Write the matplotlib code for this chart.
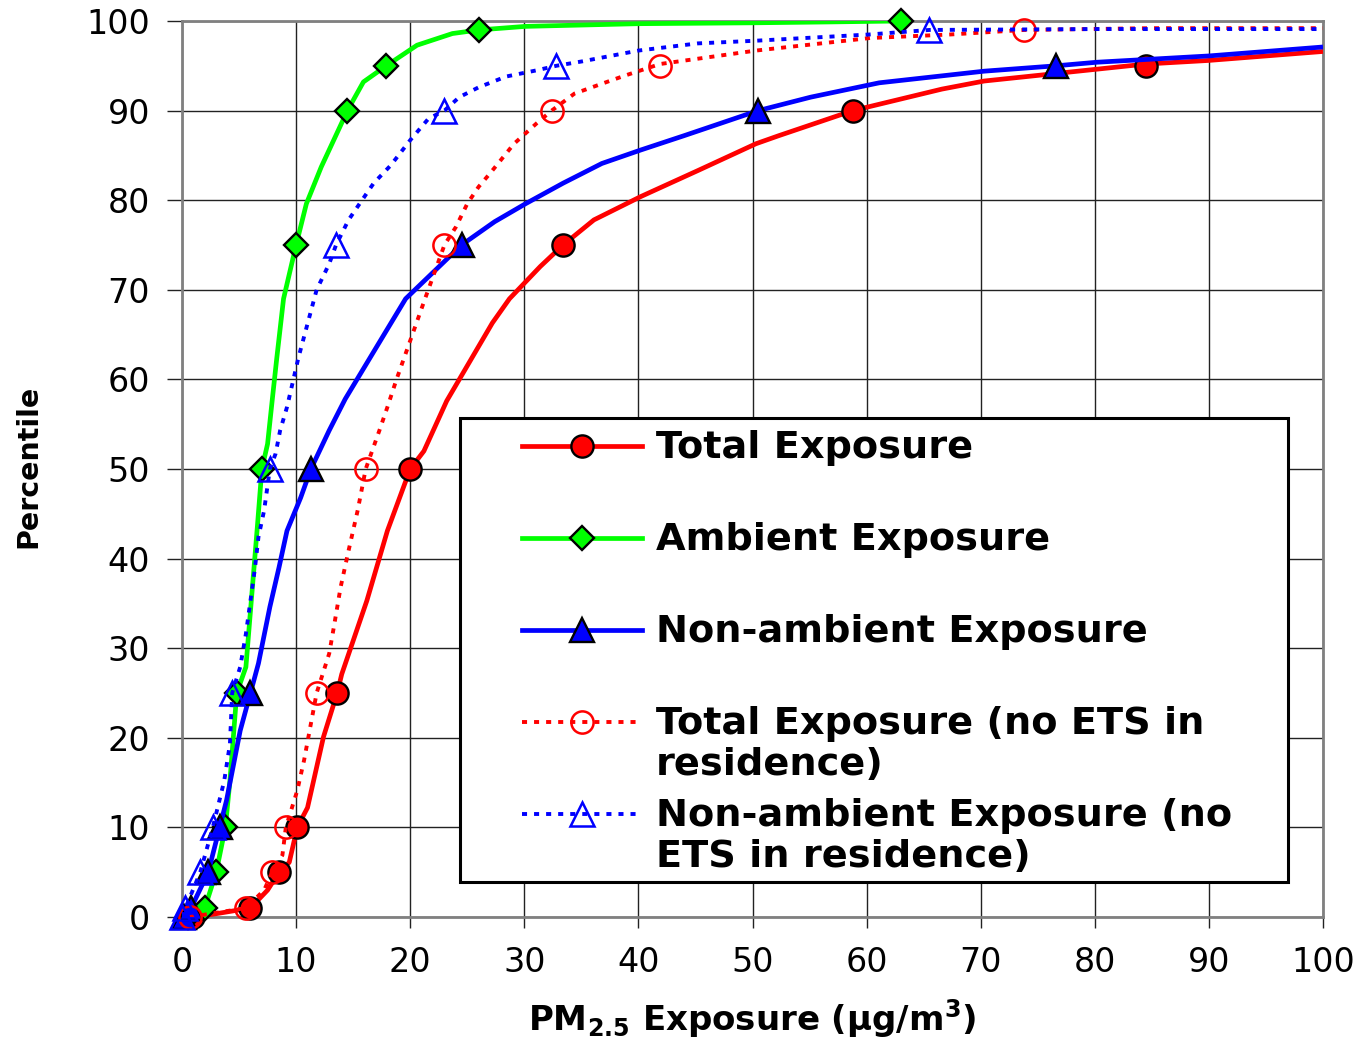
import numpy as np
import matplotlib
matplotlib.use("Agg")
import matplotlib.pyplot as plt
from matplotlib.lines import Line2D
from matplotlib.patches import Rectangle

plt.rcParams['font.family'] = ['DejaVu Sans']
plt.rcParams['mathtext.default'] = 'bf'

# percentiles where markers are drawn
pct = [0, 1, 5, 10, 25, 50, 75, 90, 95, 99, 100]

# Total Exposure
total_line_x = [1.0, 2.2, 6.0, 7.5, 8.5, 9.4, 10.1, 11.0, 12.4, 13.6, 14.0, 16.2, 18.0, 20.0, 21.2, 23.2,
                27.2, 28.7, 31.4, 33.4, 36.1, 40.2, 45.2, 50.3, 52.3, 58.8, 66.6, 70.3, 84.5, 90.0, 100.0]
total_line_y = [0, 0.2, 1, 3, 5, 6.1, 10, 12.2, 20.1, 25, 27.1, 35.3, 43.1, 50, 52, 57.6,
                66.3, 69, 72.6, 75, 77.8, 80.4, 83.3, 86.3, 87.2, 90, 92.4, 93.3, 95.2, 95.6, 96.6]
total_mark_x = [1.0, 6.0, 8.5, 10.1, 13.6, 20.0, 33.4, 58.8, 84.5]

# Ambient Exposure
amb_line_x = [0.5, 2.0, 3.0, 3.8, 4.2, 4.8, 5.6, 6.1, 6.6, 7.0, 7.5, 7.9, 8.3, 8.9, 10.0, 10.9, 12.2,
              14.5, 15.9, 17.9, 20.6, 23.7, 26.0, 30.1, 40.0, 50.3, 57.0, 63.0]
amb_line_y = [0, 1, 5, 10, 15.2, 25, 27.9, 35.7, 43.5, 50, 52.8, 57.6, 62.3, 69, 75, 79.6, 83.7,
              90, 93.2, 95, 97.3, 98.6, 99, 99.4, 99.7, 99.8, 99.9, 100]
amb_mark_x = [0.5, 2.0, 3.0, 3.8, 4.8, 7.0, 10.0, 14.5, 17.9, 26.0, 63.0]

# Non-ambient Exposure
nonamb_line_x = [0.2, 0.8, 2.3, 3.3, 3.9, 5.1, 6.0, 6.7, 7.7, 8.5, 9.2, 10.4, 11.3, 12.9, 14.3, 16.9,
                 19.6, 24.5, 27.4, 30.1, 33.4, 36.8, 40.2, 44.0, 50.5, 55.1, 61.1, 70.3, 76.6, 80.2,
                 90.0, 100.0]
nonamb_line_y = [0, 1, 5, 10, 13, 20.8, 25, 28.3, 34.6, 39, 43.1, 46.8, 50, 54.3, 57.8, 63.3,
                 69, 75, 77.6, 79.6, 81.9, 84.1, 85.6, 87.2, 90, 91.5, 93.1, 94.4, 95, 95.4,
                 96.1, 97.1]
nonamb_mark_x = [0.2, 0.8, 2.3, 3.3, 6.0, 11.3, 24.5, 50.5, 76.6]

# Total Exposure (no ETS in residence)
total_nets_line_x = [0.7, 5.6, 7.2, 7.9, 8.8, 9.1, 10.1, 10.7, 11.3, 11.8, 12.9, 13.3, 13.9, 14.6,
                     15.4, 16.1, 17.3, 18.0, 18.8, 21.3, 23.0, 24.0, 25.0, 26.0, 27.0, 29.1, 31.1,
                     32.4, 34.4, 36.8, 38.8, 41.9, 50.3, 60.3, 67.4, 73.8, 85.0, 100.0]
total_nets_line_y = [0, 1, 3, 5, 6.9, 10, 14.1, 17.5, 21.6, 25, 29.4, 32.3, 36.8, 40.9,
                     45.4, 50, 54.3, 56.9, 60, 69, 75, 77, 79.6, 81.5, 83, 86.3, 88.6,
                     90, 91.9, 93, 93.9, 95.2, 96.7, 98.1, 98.5, 99, 99.2, 99.2]
total_nets_mark_x = [0.7, 5.6, 7.9, 9.1, 11.8, 16.1, 23.0, 32.4, 41.9, 73.8]

# Non-ambient Exposure (no ETS in residence)
nonamb_nets_line_x = [0.0, 0.3, 1.6, 2.7, 3.7, 4.2, 4.4, 5.1, 5.6, 6.0, 6.4, 6.7, 7.2, 7.7, 8.2, 8.6,
                      9.2, 10.2, 11.8, 12.9, 13.5, 14.6, 15.4, 16.8, 18.3, 20.0, 21.6, 23.0, 24.3,
                      26.0, 28.4, 31.1, 32.8, 35.1, 40.0, 45.2, 50.3, 60.3, 65.5, 80.0, 100.0]
nonamb_nets_line_y = [0, 1, 5, 10, 15.2, 19.3, 25, 27.9, 31.6, 35.3, 39, 42.4, 45.4, 50, 51.7, 54.3,
                      56.9, 62.4, 70, 72.9, 75, 77.8, 79.3, 81.9, 83.9, 86.7, 89.1, 90, 91.5,
                      92.6, 93.8, 94.5, 95, 95.5, 96.7, 97.5, 97.8, 98.5, 99, 99.1, 99.1]
nonamb_nets_mark_x = [0.0, 0.3, 1.6, 2.7, 4.4, 7.7, 13.5, 23.0, 32.8, 65.5]

labels = ["Total Exposure",
          "Ambient Exposure",
          "Non-ambient Exposure",
          "Total Exposure (no ETS in\nresidence)",
          "Non-ambient Exposure (no\nETS in residence)"]
xticks = list(range(0, 101, 10))
yticks = list(range(0, 101, 10))

RED = '#FF0000'
GREEN = '#00FF00'
BLUE = '#0000FF'
DOT = (0, (1.3, 1.8))

styles = [
    dict(color=RED, lw=3.4, ls='-', marker='o', ms=16, mfc=RED, mec='black', mew=1.7),
    dict(color=GREEN, lw=3.4, ls='-', marker='D', ms=12.5, mfc=GREEN, mec='black', mew=1.7),
    dict(color=BLUE, lw=3.4, ls='-', marker='^', ms=17, mfc=BLUE, mec='black', mew=1.7),
    dict(color=RED, lw=2.8, ls=DOT, marker='o', ms=16, mfc='none', mec=RED, mew=1.8),
    dict(color=BLUE, lw=2.8, ls=DOT, marker='^', ms=17, mfc='none', mec=BLUE, mew=1.8),
]
series = [
    (total_line_x, total_line_y, total_mark_x),
    (amb_line_x, amb_line_y, amb_mark_x),
    (nonamb_line_x, nonamb_line_y, nonamb_mark_x),
    (total_nets_line_x, total_nets_line_y, total_nets_mark_x),
    (nonamb_nets_line_x, nonamb_nets_line_y, nonamb_nets_mark_x),
]

fig = plt.figure(figsize=(13.6, 10.37), dpi=100)
ax = fig.add_axes([182 / 1360, 1 - 917 / 1037, 1141 / 1360, 896 / 1037])

for i, ((lx, ly, mx), st) in enumerate(zip(series, styles)):
    ax.plot(lx, ly, color=st['color'], lw=st['lw'], ls=st['ls'],
            dash_capstyle='butt', solid_capstyle='butt', zorder=3 + i)
    ax.plot(mx, pct[:len(mx)], ls='none', marker=st['marker'], ms=st['ms'],
            mfc=st['mfc'], mec=st['mec'], mew=st['mew'], clip_on=False, zorder=3 + i)

ax.set_xlim(0, 100)
ax.set_ylim(0, 100)
ax.set_xticks(xticks)
ax.set_yticks(yticks)
ax.grid(True, color='#222222', lw=1.0)
ax.set_axisbelow(True)
for sp in ax.spines.values():
    sp.set_color('#808080')
    sp.set_linewidth(2)
ax.tick_params(axis='both', direction='out', width=1, color='#222222', labelsize=24)
ax.tick_params(axis='y', length=11, pad=12)
ax.tick_params(axis='x', length=8, pad=13)

fig.text(28 / 1360, 1 - 466 / 1037, "Percentile", rotation=90, ha='center', va='center',
         fontsize=20.5, fontweight='bold')
fig.text(752 / 1360, 1 - 1030 / 1037, "PM$_{2.5}$ Exposure (µg/m$^{3}$)", ha='center',
         va='baseline', fontsize=24.5, fontweight='bold')

# legend drawn by hand (Excel style, fixed row pitch)
def ax_x(px):
    return (px - 182) / 1141

def ax_y(py):
    return (917 - py) / 896

ax.add_patch(Rectangle((ax_x(460), ax_y(882)), ax_x(1288) - ax_x(460), ax_y(418) - ax_y(882),
                       transform=ax.transAxes, facecolor='white', edgecolor='black',
                       lw=2.2, zorder=20, clip_on=False))
for i, (lab, st) in enumerate(zip(labels, styles)):
    base = 458 + 92 * i
    hy = ax_y(base - 12.5)
    ax.add_line(Line2D([ax_x(522), ax_x(642)], [hy, hy], transform=ax.transAxes,
                       color=st['color'], lw=st['lw'], ls=st['ls'], dash_capstyle='butt',
                       zorder=21, clip_on=False))
    ax.add_line(Line2D([ax_x(582)], [hy], transform=ax.transAxes, ls='none',
                       marker=st['marker'], ms=st['ms'], mfc=st['mfc'], mec=st['mec'],
                       mew=st['mew'], zorder=22, clip_on=False))
    for j, line in enumerate(lab.split("\n")):
        ax.text(ax_x(656), ax_y(base + 41 * j), line, transform=ax.transAxes,
                ha='left', va='baseline', fontsize=27.5, fontweight='bold', zorder=23)

fig.savefig("out.png", dpi=100)
